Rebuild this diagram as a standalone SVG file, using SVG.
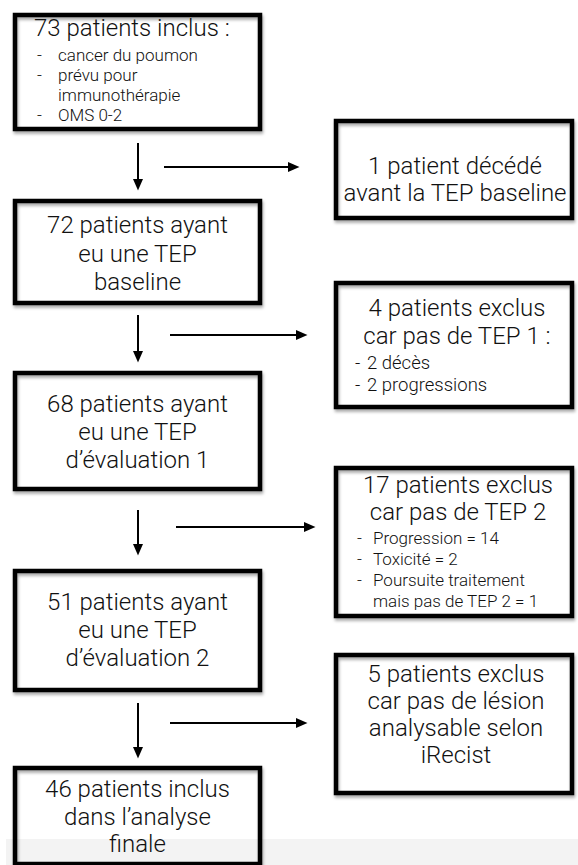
<svg xmlns="http://www.w3.org/2000/svg" width="578" height="865" viewBox="0 0 578 865">
  <style>
    .box { fill: none; stroke: #000; stroke-width: 4.5; }
    .t { font-family: Roboto, "Liberation Sans", Arial, sans-serif; font-weight: 300; font-size: 24px; fill: #111; }
    .c { text-anchor: middle; }
    .s { font-size: 18.5px; }
    .s2 { font-size: 17px; }
    .conn line { stroke: #000; stroke-width: 2; }
  </style>
  <defs>
    <filter id="sh" x="-10%" y="-10%" width="125%" height="130%">
      <feDropShadow dx="1" dy="2.5" stdDeviation="1.6" flood-color="#000" flood-opacity="0.35"/>
    </filter>
    <marker id="ah" markerUnits="userSpaceOnUse" markerWidth="12" markerHeight="11" refX="0" refY="5" orient="auto">
      <path d="M0,0 L11.5,5 L0,10 z" fill="#000"/>
    </marker>
  </defs>
  <rect x="0" y="0" width="578" height="865" fill="#fff"/>
  <rect x="6" y="839" width="572" height="26" fill="#f3f3f3"/>

  <g id="n1">
    <rect class="box" filter="url(#sh)" x="15" y="15" width="245" height="114"/>
    <text class="t" x="34" y="36">73 patients inclus :</text>
    <text class="t s2" x="37" y="61">-</text>
    <text class="t s2" x="58" y="61">cancer du poumon</text>
    <text class="t s2" x="37" y="81">-</text>
    <text class="t s2" x="58" y="81">prévu pour</text>
    <text class="t s2" x="58" y="101">immunothérapie</text>
    <text class="t s2" x="37" y="121">-</text>
    <text class="t s2" x="58" y="121">OMS 0-2</text>
  </g>

  <g id="n2">
    <rect class="box" filter="url(#sh)" x="15" y="201" width="245" height="102"/>
    <text class="t c" x="137.5" y="233">72 patients ayant</text>
    <text class="t c" x="137.5" y="262">eu une TEP</text>
    <text class="t c" x="137.5" y="290">baseline</text>
  </g>

  <g id="n3">
    <rect class="box" filter="url(#sh)" x="15" y="373" width="245" height="116"/>
    <text class="t c" x="137.5" y="412">68 patients ayant</text>
    <text class="t c" x="137.5" y="440">eu une TEP</text>
    <text class="t c" x="137.5" y="468">d’évaluation 1</text>
  </g>

  <g id="n4">
    <rect class="box" filter="url(#sh)" x="15" y="571" width="245" height="119"/>
    <text class="t c" x="137.5" y="610">51 patients ayant</text>
    <text class="t c" x="137.5" y="638">eu une TEP</text>
    <text class="t c" x="137.5" y="666">d’évaluation 2</text>
  </g>

  <g id="n5">
    <rect class="box" filter="url(#sh)" x="15" y="768" width="245" height="96"/>
    <text class="t c" x="137.5" y="797">46 patients inclus</text>
    <text class="t c" x="137.5" y="825">dans l’analyse</text>
    <text class="t c" x="137.5" y="852">finale</text>
  </g>

  <g id="r1">
    <rect class="box" filter="url(#sh)" x="336" y="121" width="236" height="97"/>
    <text class="t c" x="455" y="174">1 patient décédé</text>
    <text class="t c" x="455" y="201">avant la TEP baseline</text>
  </g>

  <g id="r2">
    <rect class="box" filter="url(#sh)" x="336" y="283" width="236" height="124"/>
    <text class="t c" x="457" y="316">4 patients exclus</text>
    <text class="t c" x="457" y="344">car pas de TEP 1 :</text>
    <text class="t s" x="355" y="369">-</text>
    <text class="t s" x="367" y="369">2 décès</text>
    <text class="t s" x="355" y="391">-</text>
    <text class="t s" x="367" y="391">2 progressions</text>
  </g>

  <g id="r3">
    <rect class="box" filter="url(#sh)" x="336" y="468" width="236" height="148"/>
    <text class="t c" x="458" y="493">17 patients exclus</text>
    <text class="t c" x="458" y="520">car pas de TEP 2</text>
    <text class="t s2" x="357" y="544">-</text>
    <text class="t s2" x="373" y="544">Progression = 14</text>
    <text class="t s2" x="357" y="565">-</text>
    <text class="t s2" x="373" y="565">Toxicité = 2</text>
    <text class="t s2" x="357" y="586">-</text>
    <text class="t s2" x="373" y="586">Poursuite traitement</text>
    <text class="t s2" x="373" y="607">mais pas de TEP 2 = 1</text>
  </g>

  <g id="r4">
    <rect class="box" filter="url(#sh)" x="336" y="655" width="236" height="138"/>
    <text class="t c" x="456" y="682">5 patients exclus</text>
    <text class="t c" x="456" y="709">car pas de lésion</text>
    <text class="t c" x="456" y="736">analysable selon</text>
    <text class="t c" x="456" y="763">iRecist</text>
  </g>

  <g id="connectors" class="conn">
    <line x1="138" y1="143" x2="138" y2="179" marker-end="url(#ah)"/>
    <line x1="164" y1="167" x2="288" y2="167" marker-end="url(#ah)"/>
    <line x1="138" y1="315" x2="138" y2="351" marker-end="url(#ah)"/>
    <line x1="170" y1="335" x2="296" y2="335" marker-end="url(#ah)"/>
    <line x1="138" y1="510" x2="138" y2="544" marker-end="url(#ah)"/>
    <line x1="176" y1="527" x2="304" y2="527" marker-end="url(#ah)"/>
    <line x1="138" y1="703" x2="138" y2="747" marker-end="url(#ah)"/>
    <line x1="170" y1="723" x2="296" y2="723" marker-end="url(#ah)"/>
  </g>
</svg>
